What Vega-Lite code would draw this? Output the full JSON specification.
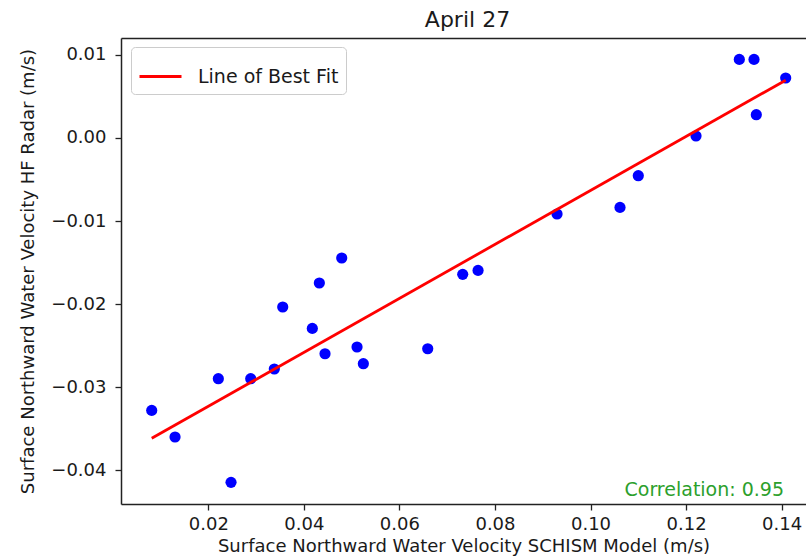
{
  "$schema": "https://vega.github.io/schema/vega-lite/v6.json",
  "width": 685,
  "height": 466,
  "autosize": {"type": "none"},
  "padding": {"left": 121, "top": 38, "right": 0, "bottom": 54},
  "background": "white",
  "title": {
    "text": "April 27",
    "fontSize": 22,
    "font": "DejaVu Sans",
    "fontWeight": "normal",
    "color": "#1a1a1a",
    "anchor": "middle",
    "offset": 6,
    "dx": 4
  },
  "config": {
    "view": {"stroke": null},
    "font": "DejaVu Sans",
    "axis": {
      "grid": false,
      "domainColor": "#222222",
      "domainWidth": 1.5,
      "tickColor": "#222222",
      "tickWidth": 1.3,
      "tickSize": 6,
      "labelFont": "DejaVu Sans",
      "labelFontSize": 18,
      "labelColor": "#1a1a1a",
      "titleFont": "DejaVu Sans",
      "titleFontSize": 18,
      "titleFontWeight": "normal",
      "titleColor": "#1a1a1a"
    }
  },
  "datasets": {
    "velocity": [
      {"model": 0.00816, "radar": -0.03282},
      {"model": 0.01304, "radar": -0.03602},
      {"model": 0.02476, "radar": -0.04149},
      {"model": 0.02210, "radar": -0.02900},
      {"model": 0.02888, "radar": -0.02900},
      {"model": 0.03382, "radar": -0.02783},
      {"model": 0.03558, "radar": -0.02036},
      {"model": 0.04177, "radar": -0.02294},
      {"model": 0.04324, "radar": -0.01747},
      {"model": 0.04793, "radar": -0.01446},
      {"model": 0.04443, "radar": -0.02599},
      {"model": 0.05113, "radar": -0.02518},
      {"model": 0.05245, "radar": -0.02719},
      {"model": 0.06593, "radar": -0.02539},
      {"model": 0.07325, "radar": -0.01643},
      {"model": 0.07646, "radar": -0.01595},
      {"model": 0.09299, "radar": -0.00916},
      {"model": 0.10617, "radar": -0.00836},
      {"model": 0.11000, "radar": -0.00454},
      {"model": 0.12208, "radar": 0.00024},
      {"model": 0.13114, "radar": 0.00947},
      {"model": 0.13422, "radar": 0.00947},
      {"model": 0.14085, "radar": 0.00723},
      {"model": 0.13470, "radar": 0.00281}
    ],
    "note": [
      {"label": "Correlation: 0.95"}
    ]
  },
  "layer": [
    {
      "data": {"name": "velocity"},
      "mark": {"type": "circle", "size": 125, "opacity": 1, "color": "#0000ff"},
      "encoding": {
        "x": {
          "field": "model",
          "type": "quantitative",
          "scale": {"domain": [0.00173, 0.1451], "nice": false, "zero": false},
          "axis": {
            "orient": "bottom",
            "values": [0.02, 0.04, 0.06, 0.08, 0.10, 0.12, 0.14],
            "format": ".2f",
            "labelPadding": 5,
            "title": "Surface Northward Water Velocity SCHISM Model (m/s)",
            "titlePadding": 4
          }
        },
        "y": {
          "field": "radar",
          "type": "quantitative",
          "scale": {"domain": [-0.044096, 0.012048], "nice": false, "zero": false},
          "axis": {
            "values": [-0.04, -0.03, -0.02, -0.01, 0.0, 0.01],
            "format": ".2f",
            "labelPadding": 9,
            "title": "Surface Northward Water Velocity HF Radar (m/s)",
            "titlePadding": 13
          }
        }
      }
    },
    {
      "data": {"name": "velocity"},
      "transform": [{"regression": "radar", "on": "model"}],
      "mark": {"type": "line", "strokeWidth": 2.8},
      "encoding": {
        "x": {"field": "model", "type": "quantitative", "axis": null},
        "y": {"field": "radar", "type": "quantitative"},
        "color": {
          "datum": "Line of Best Fit",
          "type": "nominal",
          "scale": {"range": ["#ff0000"]},
          "legend": {
            "title": null,
            "orient": "none",
            "legendX": 10,
            "legendY": 9,
            "symbolType": "stroke",
            "symbolSize": 1764,
            "symbolStrokeWidth": 2.8,
            "labelFont": "DejaVu Sans",
            "labelFontSize": 19,
            "labelColor": "#1a1a1a",
            "labelOffset": 15,
            "padding": 7,
            "cornerRadius": 4,
            "strokeColor": "#cccccc",
            "fillColor": "white"
          }
        }
      }
    },
    {
      "data": {"name": "note"},
      "mark": {
        "type": "text",
        "align": "right",
        "baseline": "alphabetic",
        "fontSize": 19,
        "font": "DejaVu Sans",
        "color": "#2ca02c"
      },
      "encoding": {
        "x": {
          "datum": 0.1405,
          "type": "quantitative",
          "axis": {
            "orient": "top",
            "labels": false,
            "ticks": false,
            "title": null,
            "domain": true,
            "minExtent": 0,
            "maxExtent": 0
          }
        },
        "y": {"datum": -0.0431, "type": "quantitative"},
        "text": {"field": "label"}
      }
    }
  ],
  "resolve": {"axis": {"x": "independent"}}
}
